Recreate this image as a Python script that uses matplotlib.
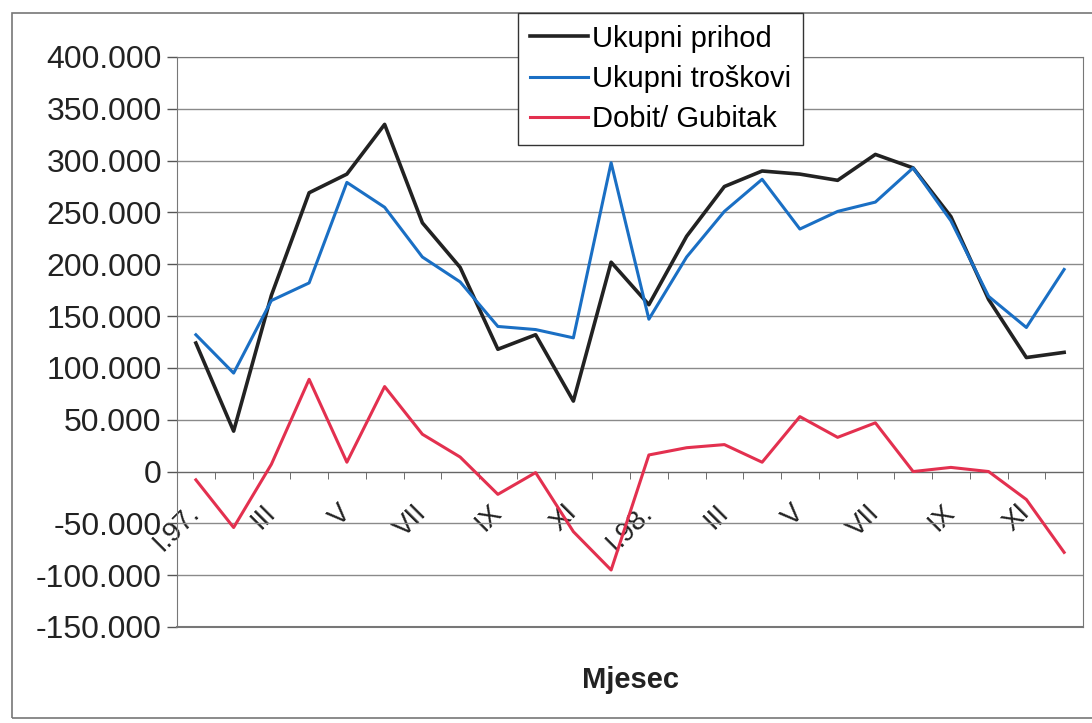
"""Ukupni prihod, troskovi i dobit po mjesecima 1997-1998."""

import matplotlib

matplotlib.use("Agg")
import matplotlib.pyplot as plt
from matplotlib.patches import Rectangle
from matplotlib.ticker import FixedLocator, FuncFormatter

plt.rcParams["font.family"] = ["Liberation Sans", "DejaVu Sans"]

# Podaci (ocitano s grafikona)
mjeseci = ["I.97.", "II", "III", "IV", "V", "VI", "VII", "VIII", "IX", "X", "XI", "XII",
           "I.98.", "II", "III", "IV", "V", "VI", "VII", "VIII", "IX", "X", "XI", "XII"]
prihod = [124000, 39000, 170000, 269000, 287000, 335000, 240000, 197000, 118000, 132000,
          68000, 202000, 161000, 227000, 275000, 290000, 287000, 281000, 306000, 293000,
          246000, 166000, 110000, 115000]
troskovi = [132000, 95000, 165000, 182000, 279000, 255000, 207000, 183000, 140000, 137000,
            129000, 298000, 147000, 207000, 251000, 282000, 234000, 251000, 260000, 293000,
            242000, 169000, 139000, 195000]
dobit = [-8000, -54000, 7000, 89000, 9000, 82000, 36000, 14000, -22000, -1000,
         -58000, -95000, 16000, 23000, 26000, 9000, 53000, 33000, 47000, 0,
         4000, 0, -27000, -78000]

fig = plt.figure(figsize=(10.92, 7.23), dpi=100)
ax = fig.add_axes([177 / 1092, 1 - 627 / 723, (1083 - 177) / 1092, (627 - 57) / 723])

x = range(len(mjeseci))
ax.plot(x, prihod, color="#222222", lw=2.6, label="Ukupni prihod", zorder=3)
ax.plot(x, troskovi, color="#1a6fc4", lw=2.2, label="Ukupni troškovi", zorder=3)
ax.plot(x, dobit, color="#e3304f", lw=2.2, label="Dobit/ Gubitak", zorder=3)

ax.set_xlim(-0.5, len(mjeseci) - 0.5)
ax.set_ylim(-150000, 400000)
ax.set_yticks(range(-150000, 400001, 50000))
ax.yaxis.set_major_formatter(FuncFormatter(lambda v, p: f"{v:,.0f}".replace(",", ".")))
ax.grid(axis="y", color="#8a8a8a", lw=1.0)
ax.set_axisbelow(True)
ax.tick_params(axis="y", labelsize=23, length=7, width=1, color="#555555", pad=4,
               labelcolor="#222222")

# donji rub podrucja crtanja
ax.axhline(-150000, color="#777777", lw=1.5, clip_on=False)

# x os na nuli, oznake svaki drugi mjesec
ax.spines["bottom"].set_position(("data", 0))
ax.spines["bottom"].set_color("#666666")
for s in ["left", "top", "right"]:
    ax.spines[s].set_color("#777777")
ax.xaxis.set_major_locator(FixedLocator(list(x)[::2]))
ax.set_xticklabels(mjeseci[::2], rotation=45, ha="right", va="center",
                   rotation_mode="anchor", fontsize=20, color="#222222")
ax.xaxis.set_minor_locator(FixedLocator([i - 0.5 for i in range(len(mjeseci) + 1)]))
ax.tick_params(axis="x", which="major", length=0, pad=27)
ax.tick_params(axis="x", which="minor", length=5, color="#555555", direction="out")

fig.text(630 / 1092, 1 - 680 / 723, "Mjesec", ha="center", va="center",
         fontsize=21, fontweight="bold", color="#222222")

leg = fig.legend(loc="upper left", bbox_to_anchor=(518 / 1092, 1 - 13 / 723),
                 fontsize=21, frameon=True, fancybox=False, handlelength=2.0,
                 handletextpad=0.15, borderpad=0.4, labelspacing=0.42,
                 borderaxespad=0)
leg.get_frame().set_edgecolor("#333333")
leg.get_frame().set_linewidth(1.0)
leg.get_frame().set_alpha(1)

# okvir grafikona
fig.patches.append(Rectangle((12 / 1092, 1 - 718 / 723), 1.1, (718 - 13) / 723,
                             transform=fig.transFigure, fill=False,
                             edgecolor="#777777", lw=1.2))

fig.savefig("out.png", dpi=100)
